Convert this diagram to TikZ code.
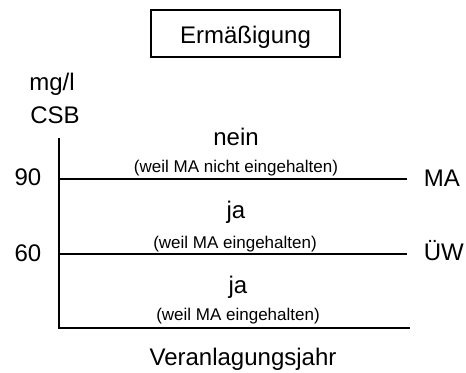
\documentclass[tikz,border=0pt]{standalone}
\usepackage{fontspec}
\setmainfont{Liberation Sans}
\usetikzlibrary{positioning}
\tikzset{every picture/.style={line width=0.9pt},
lab/.style={font=\fontsize{12}{14}\selectfont,inner sep=0pt,anchor=base},
note/.style={font=\fontsize{8.5}{10}\selectfont,inner sep=0pt,anchor=base}}
\begin{document}
\begin{tikzpicture}[x=0.5pt,y=-0.5pt]
\useasboundingbox (0,0) rectangle (466,372);
\node[draw,line width=0.8pt,minimum width=94.5pt,minimum height=23.5pt] (titel) at (245.5,33.5) {};
\node[lab] (erm) at (245.5,43) {Ermäßigung};
\node[lab] (mgl) at (52,90) {mg/l};
\node[lab] (csb) at (55,123) {CSB};
\coordinate (top) at (59,138);
\coordinate (o) at (59,328);
\coordinate (e) at (410,328);
\coordinate (ma0) at (59,179);
\coordinate (ma1) at (407,179);
\coordinate (uw0) at (59,254);
\coordinate (uw1) at (407,254);
\draw (top) -- (o) -- (e);
\draw (ma0) -- (ma1);
\draw (uw0) -- (uw1);
\node[lab] (g90) at (28,185) {90};
\node[lab] (g60) at (28,261) {60};
\node[lab,anchor=base west] (ma) at (423,186) {MA};
\node[lab,anchor=base west] (uw) at (423,260) {ÜW};
% Felder
\node[lab] (nein) at (236,145) {nein};
\node[note] (n1) at (236,172) {(weil MA nicht eingehalten)};
\node[lab] (ja1) at (236,218) {ja};
\node[note] (n2) at (235,248) {(weil MA eingehalten)};
\node[lab] (ja2) at (238,293) {ja};
\node[note] (n3) at (238,320) {(weil MA eingehalten)};
\node[lab] (jahr) at (243,365) {Veranlagungsjahr};
\end{tikzpicture}
\end{document}
